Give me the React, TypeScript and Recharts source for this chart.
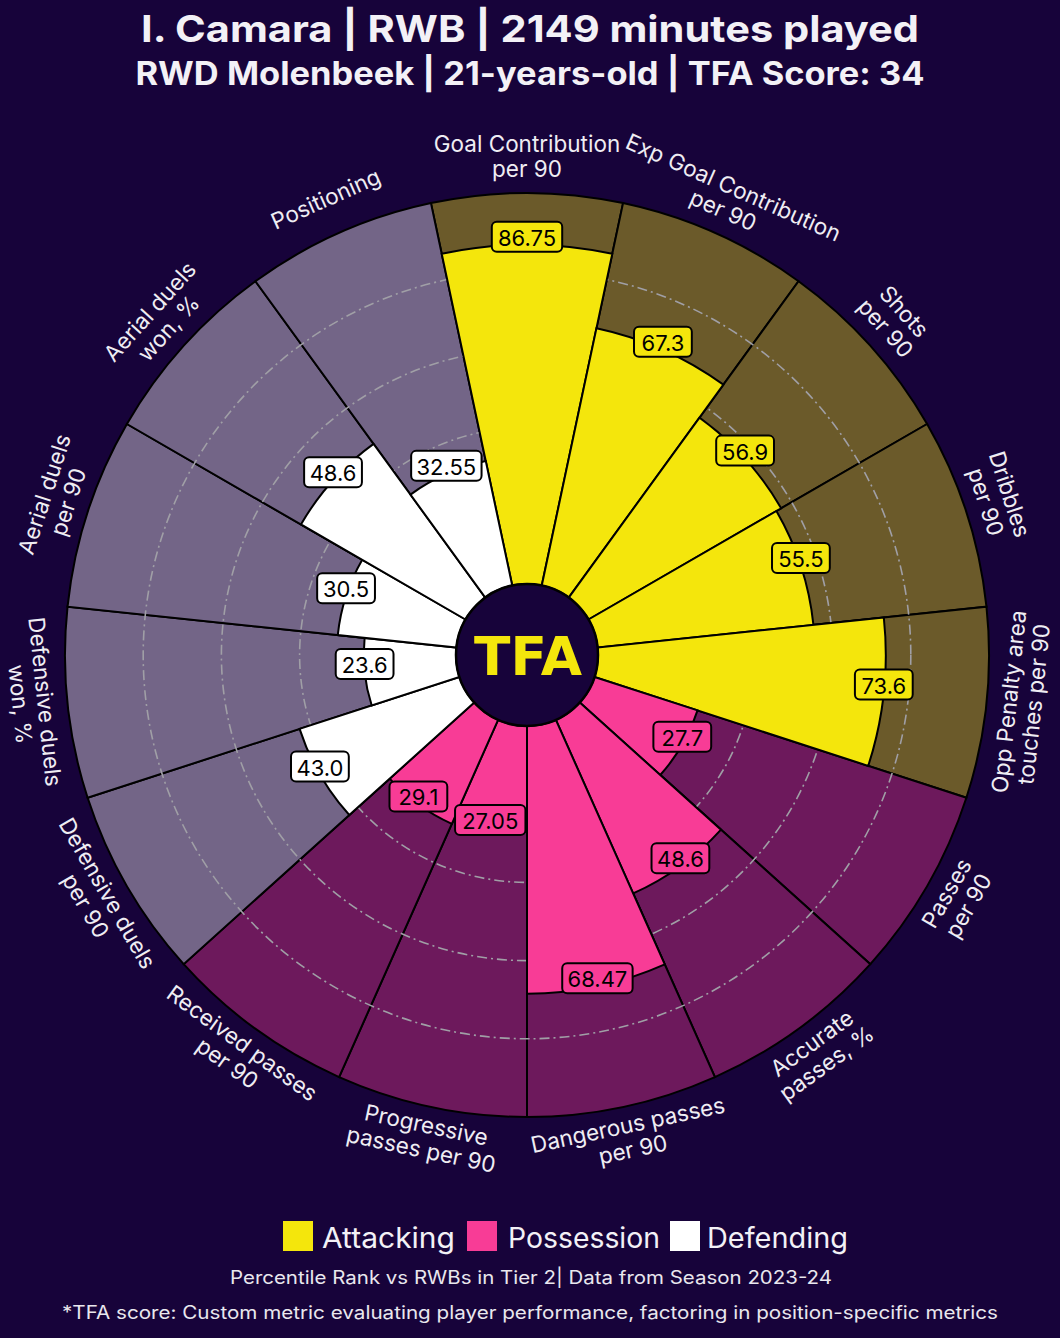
import React from "react";
import {
  RadialBarChart,
  RadialBar,
  PolarAngleAxis,
  PolarRadiusAxis,
  PolarGrid,
  LabelList,
  Cell,
} from "recharts";

// ---------------- data ----------------
const metrics = [
  "Goal Contribution\nper 90",
  "Exp Goal Contribution\nper 90",
  "Shots\nper 90",
  "Dribbles\nper 90",
  "Opp Penalty area\ntouches per 90",
  "Passes\nper 90",
  "Accurate\npasses, %",
  "Dangerous passes\nper 90",
  "Progressive\npasses per 90",
  "Received passes\nper 90",
  "Defensive duels\nper 90",
  "Defensive duels\nwon, %",
  "Aerial duels\nper 90",
  "Aerial duels\nwon, %",
  "Positioning",
];
const percentiles = [86.75, 67.3, 56.9, 55.5, 73.6, 27.7, 48.6, 68.47, 27.05, 29.1, 43.0, 23.6, 30.5, 48.6, 32.55];
const percentileLabels = ["86.75", "67.3", "56.9", "55.5", "73.6", "27.7", "48.6", "68.47", "27.05", "29.1", "43.0", "23.6", "30.5", "48.6", "32.55"];
const metricGroups = [0, 0, 0, 0, 0, 1, 1, 1, 1, 1, 2, 2, 2, 2, 2];
const groupNames = ["Attacking", "Possession", "Defending"];
const gridValues = [20, 40, 60, 80];
const fullScale = 100;

const titleLine1 = "I. Camara | RWB | 2149 minutes played";
const titleLine2 = "RWD Molenbeek | 21-years-old | TFA Score: 34";
const footer1 = "Percentile Rank vs RWBs in Tier 2| Data from Season 2023-24";
const footer2 = "*TFA score: Custom metric evaluating player performance, factoring in position-specific metrics";

// ---------------- styles ----------------
const W = 1060;
const H = 1338;
const CX = 527;
const CY = 655;
const R_IN = 71;
const R_OUT = 462;
const START_ANGLE = 78;
const END_ANGLE = -282;
const HALF_BAND = 12;
const LABEL_R = 496;
const BG = "#17033a";
const barColors = ["#f4e60c", "#f83c96", "#ffffff"];
const bgColors = ["#6b5a2a", "#6d195c", "#736587"];
const FONT = "Inter, 'Noto Sans', sans-serif";

const rows = metrics.map((m, i) => ({
  name: m,
  value: percentiles[i],
  label: percentileLabels[i],
  full: fullScale,
  group: metricGroups[i],
}));

const commonProps = {
  width: W,
  height: H,
  data: rows,
  cx: CX,
  cy: CY,
  innerRadius: R_IN,
  outerRadius: R_OUT,
  startAngle: START_ANGLE,
  endAngle: END_ANGLE,
  layout: "centric" as const,
  barCategoryGap: 0,
  barGap: 0,
  margin: { top: 0, right: 0, bottom: 0, left: 0 },
};

const charW = (s: string) => {
  let w = 0;
  for (const c of s) w += c === "." ? 6 : 12.6;
  return w;
};

const ValueLabel = (props: any) => {
  const { viewBox, value, index } = props;
  if (!viewBox) return null;
  const { cx, cy, outerRadius, startAngle, endAngle } = viewBox;
  const mid = (((startAngle + endAngle) / 2) * Math.PI) / 180;
  const r = outerRadius;
  const x = cx + r * Math.cos(mid);
  const y = cy - r * Math.sin(mid) - 8;
  const s = String(value);
  const w = charW(s) + 14;
  const h = 30;
  const g = metricGroups[index] ?? 0;
  return (
    <g>
      <rect x={x - w / 2} y={y - h / 2} width={w} height={h} rx={5} ry={5} fill={barColors[g]} stroke="#000" strokeWidth={2} />
      <text x={x} y={y + 1} textAnchor="middle" dominantBaseline="central" fontSize={22} fontFamily={FONT} fill="#000">
        {s}
      </text>
    </g>
  );
};

const CategoryTick = (props: any) => {
  const { x, y, payload } = props;
  const ang = Math.atan2(CY - y, x - CX) + (HALF_BAND * Math.PI) / 180;
  const deg = (ang * 180) / Math.PI;
  const lx = CX + LABEL_R * Math.cos(ang);
  const ly = CY - LABEL_R * Math.sin(ang) - 4;
  const rot = Math.sin(ang) < -0.001 ? -90 - deg : 90 - deg;
  const lines = String(payload.value).split("\n");
  const lh = 25;
  return (
    <g transform={`translate(${lx},${ly}) rotate(${rot})`}>
      <text textAnchor="middle" fontSize={22.5} fontFamily={FONT} fill="#efedf3" dominantBaseline="central">
        {lines.map((l, i) => (
          <tspan key={i} x={0} y={(i - (lines.length - 1) / 2) * lh}>
            {l}
          </tspan>
        ))}
      </text>
    </g>
  );
};

const layer: React.CSSProperties = { position: "absolute", left: 0, top: 0 };

export default function App() {
  return (
    <div style={{ position: "absolute", left: 0, top: 0, width: W, height: H, background: BG, overflow: "hidden" }}>
      {/* background slices */}
      <div style={layer}>
        <RadialBarChart {...commonProps}>
          <PolarAngleAxis type="category" dataKey="name" axisLine={false} tickLine={false} tick={false} />
          <PolarRadiusAxis type="number" domain={[0, 100]} ticks={gridValues} axisLine={false} tick={false} />
          <RadialBar dataKey="full" isAnimationActive={false} stroke="#000" strokeWidth={2}>
            {rows.map((r, i) => (
              <Cell key={i} fill={bgColors[r.group]} />
            ))}
          </RadialBar>
        </RadialBarChart>
      </div>
      {/* grid */}
      <div style={layer}>
        <RadialBarChart {...commonProps}>
          <PolarGrid gridType="circle" radialLines={false} stroke="#a09fa6" strokeWidth={1.6} strokeDasharray="10 4 2 4" />
          <PolarAngleAxis type="category" dataKey="name" axisLine={false} tickLine={false} tick={false} />
          <PolarRadiusAxis type="number" domain={[0, 100]} ticks={gridValues} axisLine={false} tick={false} />
          <RadialBar dataKey="full" isAnimationActive={false} fill="none" stroke="none" />
        </RadialBarChart>
      </div>
      {/* value bars */}
      <div style={layer}>
        <RadialBarChart {...commonProps}>
          <PolarAngleAxis type="category" dataKey="name" axisLine={false} tickLine={false} tick={<CategoryTick />} />
          <PolarRadiusAxis type="number" domain={[0, 100]} ticks={gridValues} axisLine={false} tick={false} />
          <RadialBar dataKey="value" isAnimationActive={false} stroke="#000" strokeWidth={2}>
            {rows.map((r, i) => (
              <Cell key={i} fill={barColors[r.group]} />
            ))}
            <LabelList dataKey="label" content={ValueLabel} />
          </RadialBar>
        </RadialBarChart>
      </div>
      {/* overlay: titles, center logo, legend, footer */}
      <svg width={W} height={H} style={{ ...layer, pointerEvents: "none" }}>
        <text x={530} y={42} textAnchor="middle" fontSize={37} fontWeight={700} fontFamily={FONT} fill="#f3f1f6" textLength={778} lengthAdjust="spacingAndGlyphs">
          {titleLine1}
        </text>
        <text x={530} y={85} textAnchor="middle" fontSize={32} fontWeight={700} fontFamily={FONT} fill="#f3f1f6" textLength={789} lengthAdjust="spacingAndGlyphs">
          {titleLine2}
        </text>
        <circle cx={CX} cy={CY} r={R_IN} fill={BG} stroke="#000" strokeWidth={2.5} />
        <text x={528} y={675} textAnchor="middle" fontSize={54} fontWeight={700} fontFamily="'DejaVu Sans', sans-serif" fill="#f4e60c" textLength={108} lengthAdjust="spacingAndGlyphs">
          TFA
        </text>
        {/* legend */}
        <rect x={283} y={1221} width={30} height={30} fill={barColors[0]} />
        <text x={322} y={1248} fontSize={28.5} fontFamily={FONT} fill="#f3f1f6" textLength={133} lengthAdjust="spacingAndGlyphs">{groupNames[0]}</text>
        <rect x={467} y={1221} width={30} height={30} fill={barColors[1]} />
        <text x={508} y={1248} fontSize={28.5} fontFamily={FONT} fill="#f3f1f6" textLength={152} lengthAdjust="spacingAndGlyphs">{groupNames[1]}</text>
        <rect x={670} y={1221} width={30} height={30} fill={barColors[2]} />
        <text x={707} y={1248} fontSize={28.5} fontFamily={FONT} fill="#f3f1f6" textLength={141} lengthAdjust="spacingAndGlyphs">{groupNames[2]}</text>
        <text x={531} y={1284} textAnchor="middle" fontSize={18} fontFamily={FONT} fill="#e9e7ee" textLength={602} lengthAdjust="spacingAndGlyphs">
          {footer1}
        </text>
        <text x={530} y={1319} textAnchor="middle" fontSize={18} fontFamily={FONT} fill="#e9e7ee" textLength={936} lengthAdjust="spacingAndGlyphs">
          {footer2}
        </text>
      </svg>
    </div>
  );
}
